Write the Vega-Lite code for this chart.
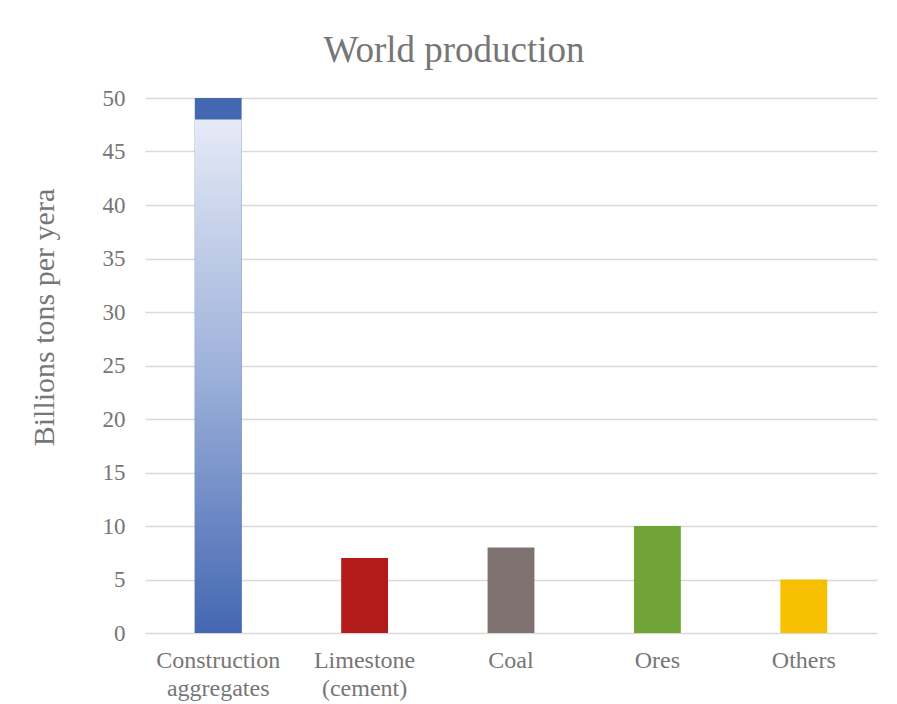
{
  "$schema": "https://vega.github.io/schema/vega-lite/v6.json",
  "width": 732,
  "height": 535,
  "autosize": "none",
  "padding": {"left": 145, "top": 98, "right": 20, "bottom": 71},
  "background": "white",
  "config": {
    "view": {"stroke": null},
    "font": "Times New Roman, Liberation Serif, serif"
  },
  "title": {
    "text": "World production",
    "font": "Times New Roman, Liberation Serif, serif",
    "fontSize": 37,
    "fontWeight": "normal",
    "color": "#767676",
    "anchor": "middle",
    "dx": -57,
    "offset": 17
  },
  "datasets": {
    "production": [
      {"material": "Construction aggregates", "value": 50},
      {"material": "Limestone (cement)", "value": 7},
      {"material": "Coal", "value": 8},
      {"material": "Ores", "value": 10},
      {"material": "Others", "value": 5}
    ],
    "aggregates_gradient": [
      {"material": "Construction aggregates", "value": 48}
    ]
  },
  "encoding": {
    "x": {
      "field": "material",
      "type": "nominal",
      "sort": null,
      "scale": {"paddingInner": 0, "paddingOuter": 0},
      "axis": {
        "title": null,
        "labelAngle": 0,
        "labelExpr": "split(datum.label, ' ')",
        "labelFont": "Times New Roman, Liberation Serif, serif",
        "labelFontSize": 24,
        "labelColor": "#767676",
        "labelLineHeight": 28,
        "labelPadding": 15,
        "domain": false,
        "ticks": false
      }
    },
    "y": {
      "field": "value",
      "type": "quantitative",
      "scale": {"domain": [0, 50], "nice": false},
      "axis": {
        "title": "Billions tons per yera",
        "titleFont": "Times New Roman, Liberation Serif, serif",
        "titleFontSize": 30,
        "titleFontWeight": "normal",
        "titleColor": "#767676",
        "titlePadding": 43,
        "titleY": 219,
        "values": [0, 5, 10, 15, 20, 25, 30, 35, 40, 45, 50],
        "labelFont": "Times New Roman, Liberation Serif, serif",
        "labelFontSize": 23,
        "labelColor": "#767676",
        "labelPadding": 20,
        "domain": false,
        "ticks": false,
        "grid": true,
        "gridColor": "#d9d9d9",
        "gridWidth": 1.4
      }
    }
  },
  "layer": [
    {
      "data": {"name": "production"},
      "mark": {"type": "bar", "width": {"band": 0.32}},
      "encoding": {
        "color": {
          "field": "material",
          "type": "nominal",
          "scale": {
            "domain": ["Construction aggregates", "Limestone (cement)", "Coal", "Ores", "Others"],
            "range": ["#4467b2", "#b31b1b", "#7f7270", "#70a437", "#f6bf00"]
          },
          "legend": null
        }
      }
    },
    {
      "data": {"name": "aggregates_gradient"},
      "mark": {
        "type": "bar",
        "width": {"band": 0.32},
        "color": {
          "gradient": "linear",
          "x1": 0, "y1": 1, "x2": 0, "y2": 0,
          "stops": [
            {"offset": 0, "color": "#4467b2"},
            {"offset": 0.5, "color": "#9cb0da"},
            {"offset": 1, "color": "#e5eaf6"}
          ]
        }
      },
      "encoding": {}
    }
  ]
}
